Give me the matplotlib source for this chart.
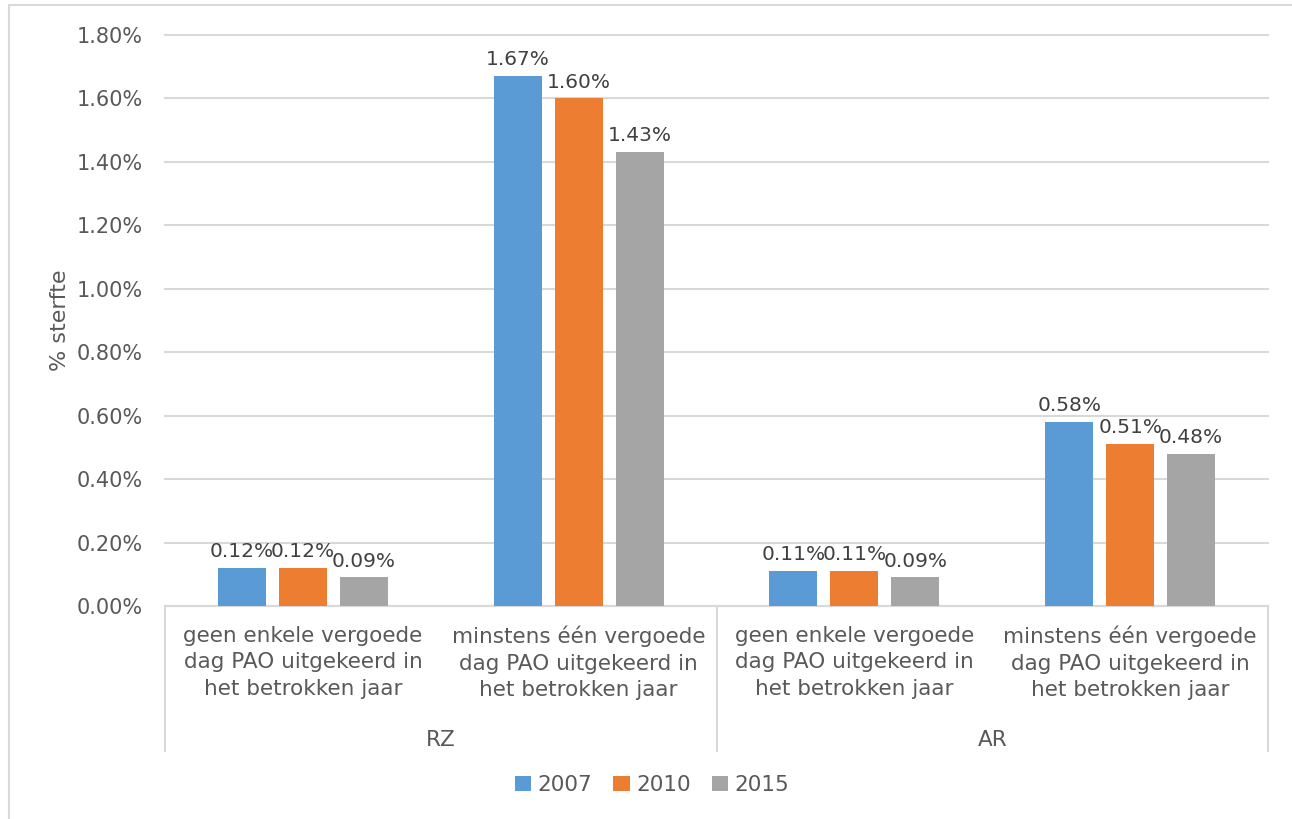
import numpy as np
import matplotlib
matplotlib.use("Agg")
import matplotlib.pyplot as plt
from matplotlib.patches import Rectangle

# Sterfte per groep en jaar (in %)
groups = ["RZ", "AR"]
subcats = [
    "geen enkele vergoede\ndag PAO uitgekeerd in\nhet betrokken jaar",
    "minstens één vergoede\ndag PAO uitgekeerd in\nhet betrokken jaar",
]
years = ["2007", "2010", "2015"]
v2007 = [0.12, 1.67, 0.11, 0.58]
v2010 = [0.12, 1.60, 0.11, 0.51]
v2015 = [0.09, 1.43, 0.09, 0.48]
yticks = [0.0, 0.2, 0.4, 0.6, 0.8, 1.0, 1.2, 1.4, 1.6, 1.8]

colors = ["#5B9BD5", "#ED7D31", "#A5A5A5"]
txt = "#595959"
grid = "#D9D9D9"

plt.rcParams["font.family"] = ["DejaVu Sans"]

W, H = 1292, 819
fig = plt.figure(figsize=(W / 100, H / 100), dpi=100)
ax = fig.add_axes([165 / W, 1 - 606 / H, (1268 - 165) / W, (606 - 35) / H])

x = np.arange(len(v2007))
width = 0.174
offset = 0.221
series = [v2007, v2010, v2015]
for i, (vals, col, yr) in enumerate(zip(series, colors, years)):
    pos = x + (i - 1) * offset
    bars = ax.bar(pos, vals, width, color=col, label=yr, zorder=3)
    for b, v in zip(bars, vals):
        ax.annotate(f"{v:.2f}%", (b.get_x() + b.get_width() / 2, v),
                    xytext=(0, 5), textcoords="offset points",
                    ha="center", va="bottom", fontsize=14.5, color="#404040")

ax.set_xlim(-0.5, len(v2007) - 0.5)
ax.set_ylim(0, 1.8)
ax.set_yticks(yticks)
ax.set_yticklabels([f"{t:.2f}%" for t in yticks], fontsize=15, color=txt)
ax.tick_params(axis="y", length=0, pad=16)
ax.set_xticks([])
ax.yaxis.grid(True, color=grid, linewidth=1.5, zorder=0)
for gl in ax.get_ygridlines():
    gl.set_clip_on(False)
for s in ["top", "right", "left"]:
    ax.spines[s].set_visible(False)
ax.spines["bottom"].set_color(grid)
ax.spines["bottom"].set_linewidth(1.5)

# two-level category axis
tr = ax.get_xaxis_transform()
for i in range(len(v2007)):
    ax.text(i, -0.035, subcats[i % 2], transform=tr, ha="center", va="top",
            fontsize=15.5, color=txt, linespacing=1.4)
for g, name in enumerate(groups):
    ax.text(2 * g + 0.5, -0.235, name, transform=tr, ha="center", va="center",
            fontsize=15.5, color=txt)
for xs in [-0.5, 1.5, 3.5]:
    ax.plot([xs, xs], [0, -0.254], transform=tr, color=grid, linewidth=1.5,
            clip_on=False)

fig.text(60 / W, 1 - 320 / H, "% sterfte", rotation=90, ha="center",
         va="center", fontsize=16, color=txt)

fig.legend(loc="center", bbox_to_anchor=(652 / W, 1 - 785 / H), ncol=3,
           frameon=False, fontsize=15.5, labelcolor=txt, handlelength=0.75,
           handleheight=0.75, handletextpad=0.3, columnspacing=1.0)

# outer chart border
fig.patches.append(Rectangle((8.5 / W, -0.1), 3, 1 - 5.5 / H + 0.1,
                             transform=fig.transFigure, fill=False,
                             edgecolor=grid, linewidth=1.5))

fig.savefig("out.png", dpi=100)
